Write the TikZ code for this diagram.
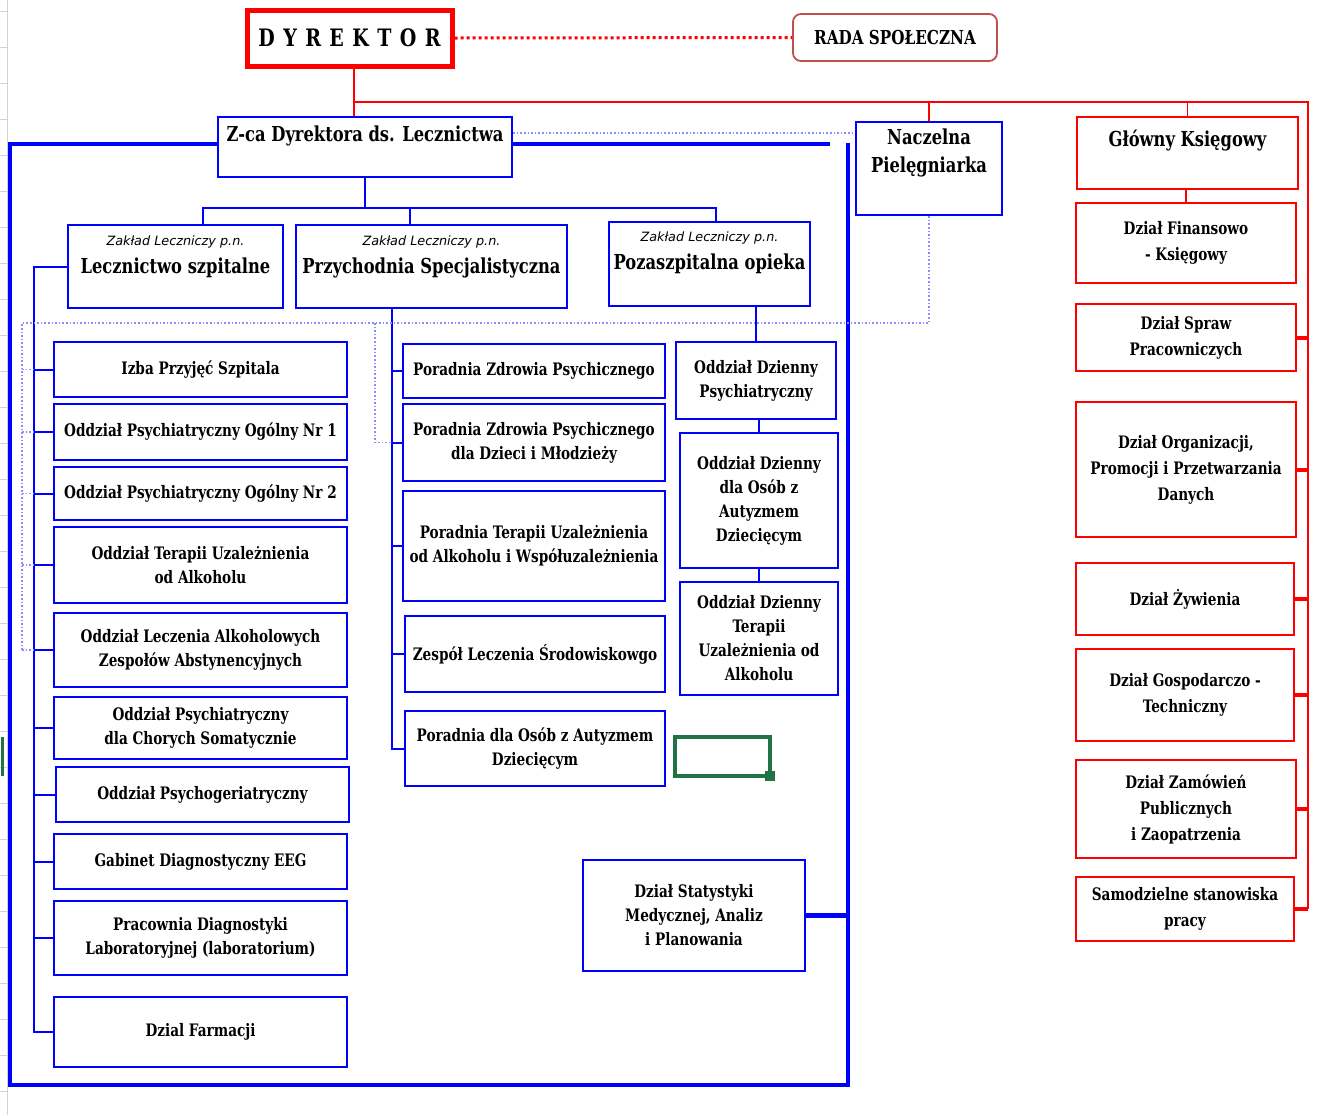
\documentclass[tikz,border=0pt]{standalone}
\usepackage{fontspec}
\setmainfont{DejaVu Serif Condensed}[FakeStretch=0.88]
\newfontfamily\zakfamily{DejaVu Sans}
\newcommand{\boxfont}{\bfseries\fontsize{8.6}{12}\selectfont}
\newcommand{\deptfont}{\bfseries\fontsize{8.6}{13}\selectfont}
\newcommand{\headfont}{\bfseries\fontsize{10.3}{14}\selectfont}
\newcommand{\zakfont}{\zakfamily\mdseries\itshape\fontsize{6.4}{8}\selectfont}
\definecolor{radared}{RGB}{192,80,77}
\definecolor{selgreen}{RGB}{33,115,70}
\tikzset{
	wh/.style 2 args={minimum width=#1*0.5pt, minimum height=#2*0.5pt},
	unit/.style={draw=blue, line width=1.1pt, fill=white, align=center, inner sep=1pt, font=\boxfont},
	dept/.style={unit, draw=red, font=\deptfont},
	head/.style={font=\headfont, align=center, inner sep=2pt},
	bline/.style={draw=blue, line width=1pt},
	frame/.style={draw=blue, line width=2.2pt},
	rline/.style={draw=red, line width=0.8pt},
	rtick/.style={draw=red, line width=2pt},
	dotline/.style={draw=blue!45, line width=0.8pt, densely dotted},
}
\begin{document}
\begin{tikzpicture}[x=0.5pt,y=-0.5pt]
	\useasboundingbox (0,0) rectangle (1321,1115);
	% sheet edge
	\draw[gray!35] (7,0) -- (7,1115);
	\foreach \y in {11,47,...,1115} \draw[gray!35] (0,\y) -- (7,\y);
	\draw[selgreen, line width=1.5pt] (2,737) -- (2,776);
	% Top
	\node[draw=red, line width=2.5pt, wh={205}{56}, font=\bfseries\fontsize{12}{14}\selectfont\addfontfeature{LetterSpace=35}] (dyr) at (349.5,38) {DYREKTOR};
	\node[draw=radared, rounded corners=4pt, line width=0.9pt, wh={204}{47}, font=\bfseries\fontsize{9.6}{12}\selectfont] (rada) at (895,37.5) {RADA SPOŁECZNA};
	\node[unit, wh={294}{60}, label={[head, anchor=north, yshift=-3pt]north:{Z-ca Dyrektora ds. Lecznictwa}}] (zca) at (365,147) {};
	\node[unit, wh={146}{93}, label={[head, anchor=north, yshift=-2pt]north:{Naczelna\\Pielęgniarka}}] (nacz) at (929,168.5) {};
	% Zaklady
	\node[unit, wh={215}{83}, label={[head, anchor=north, yshift=-3.5pt]north:{{\zakfont Zakład Leczniczy p.n.}\\Lecznictwo szpitalne}}] (lecz) at (175.5,266.5) {};
	\node[unit, wh={271}{83}, label={[head, anchor=north, yshift=-3.5pt]north:{{\zakfont Zakład Leczniczy p.n.}\\Przychodnia Specjalistyczna}}] (przych) at (431.5,266.5) {};
	\node[unit, wh={201}{84}, label={[head, anchor=north, yshift=-3pt]north:{{\zakfont Zakład Leczniczy p.n.}\\Pozaszpitalna opieka}}] (pozasz) at (709.5,264) {};
	% Lecznictwo szpitalne
	\node[unit, wh={293}{55}] (izba) at (200.5,369.5) {Izba Przyjęć Szpitala};
	\node[unit, wh={293}{56}] (og1) at (200.5,432) {Oddział Psychiatryczny Ogólny Nr 1};
	\node[unit, wh={293}{53}] (og2) at (200.5,493.5) {Oddział Psychiatryczny Ogólny Nr 2};
	\node[unit, wh={293}{76}] (ter) at (200.5,565) {Oddział Terapii Uzależnienia\\od Alkoholu};
	\node[unit, wh={293}{74}] (alk) at (200.5,650) {Oddział Leczenia Alkoholowych\\Zespołów Abstynencyjnych};
	\node[unit, wh={293}{62}] (som) at (200.5,728) {Oddział Psychiatryczny\\dla Chorych Somatycznie};
	\node[unit, wh={293}{55}] (geri) at (202.5,794.5) {Oddział Psychogeriatryczny};
	\node[unit, wh={293}{55}] (eeg) at (200.5,861.5) {Gabinet Diagnostyczny EEG};
	\node[unit, wh={293}{74}] (lab) at (200.5,938) {Pracownia Diagnostyki\\Laboratoryjnej (laboratorium)};
	\node[unit, wh={293}{70}] (farm) at (200.5,1032) {Dzial Farmacji};
	% Przychodnia
	\node[unit, wh={262}{54}] (pzp) at (534,371) {Poradnia Zdrowia Psychicznego};
	\node[unit, wh={262}{77}] (pzpd) at (534,442.5) {Poradnia Zdrowia Psychicznego\\dla Dzieci i Młodzieży};
	\node[unit, wh={262}{110}] (ptu) at (534,546) {Poradnia Terapii Uzależnienia\\od Alkoholu i Współuzależnienia};
	\node[unit, wh={260}{76}] (zls) at (535,654) {Zespół Leczenia Środowiskowgo};
	\node[unit, wh={260}{75}] (poa) at (535,748.5) {Poradnia dla Osób z Autyzmem\\Dziecięcym};
	% Pozaszpitalna
	\node[unit, wh={160}{77}] (dz1) at (756,380.5) {Oddział Dzienny\\Psychiatryczny};
	\node[unit, wh={158}{135}] (dz2) at (759,500.5) {Oddział Dzienny\\dla Osób z\\Autyzmem\\Dziecięcym};
	\node[unit, wh={158}{113}] (dz3) at (759,638.5) {Oddział Dzienny\\Terapii\\Uzależnienia od\\Alkoholu};
	\node[unit, wh={222}{111}] (stat) at (694,915.5) {Dział Statystyki\\Medycznej, Analiz\\i Planowania};
	% Ksiegowy
	\node[dept, wh={221}{72}, label={[head, anchor=north, yshift=-5pt]north:{Główny Księgowy}}] (glowny) at (1187.5,153) {};
	\node[dept, wh={220}{80}] (fin) at (1186,243) {Dział Finansowo\\- Księgowy};
	\node[dept, wh={220}{67}] (spraw) at (1186,337.5) {Dział Spraw\\Pracowniczych};
	\node[dept, wh={220}{135}] (org) at (1186,469.5) {Dział Organizacji,\\Promocji i Przetwarzania\\Danych};
	\node[dept, wh={218}{72}] (zyw) at (1185,599) {Dział Żywienia};
	\node[dept, wh={218}{92}] (gosp) at (1185,695) {Dział Gospodarczo -\\Techniczny};
	\node[dept, wh={220}{98}] (zam) at (1186,809) {Dział Zamówień\\Publicznych\\i Zaopatrzenia};
	\node[dept, wh={218}{64}] (samo) at (1185,909) {Samodzielne stanowiska\\pracy};
	% Red lines
	\coordinate (rb) at (1308,102);
	\coordinate (rd) at (354,102);
	\draw[red, line width=1.5pt, dash pattern=on 1.5pt off 1.5pt] (dyr.east) -- (rada.west);
	\draw[rline] (rd |- dyr.south) -- (rd |- zca.north);
	\draw[rline] (rd) -- (rb) -- (rb |- samo.east);
	\draw[rline] (nacz.north) -- (nacz.north |- rb);
	\draw[rline] (glowny.north) -- (glowny.north |- rb);
	\draw[rline] (fin.north) -- (fin.north |- glowny.south);
	\foreach \n in {spraw,org,zyw,gosp,zam,samo} \draw[rtick] (\n.east) -- (rb |- \n.east);
	% Blue frame
	\coordinate (ftr) at (830,144);
	\coordinate (fbl) at (10,1085);
	\coordinate (fbr) at (848,1085);
	\draw[frame] (zca.west |- ftr) -| (fbl) -- (fbr) -- ([yshift=0.5pt]fbr |- ftr);
	\draw[frame] (zca.east |- ftr) -- (ftr);
	\draw[frame] (stat.east) -- (stat.east -| fbr);
	% Blue lines
	\coordinate (zl) at (203,208);
	\coordinate (zm) at (410,208);
	\coordinate (zr) at (716,208);
	\coordinate (lsp) at (34,0);
	\coordinate (msp) at (392,0);
	\draw[bline] (zca.south) -- (zca.south |- zl);
	\draw[bline] (zl |- lecz.north) -- (zl) -- (zr) -- (zr |- pozasz.north);
	\draw[bline] (zm) -- (zm |- przych.north);
	\draw[bline] (lecz.west) -- (lsp |- lecz.west) -- (lsp |- farm.west) -- (farm.west);
	\foreach \n in {izba,og1,og2,ter,alk,som,geri,eeg,lab} \draw[bline] (lsp |- \n.west) -- (\n.west);
	\draw[bline] (msp |- przych.south) -- (msp |- poa.west) -- (poa.west);
	\foreach \n in {pzp,pzpd,ptu,zls} \draw[bline] (msp |- \n.west) -- (\n.west);
	\draw[bline] (dz1.north) -- (dz1.north |- pozasz.south);
	\draw[bline] (dz2.north) -- (dz2.north |- dz1.south);
	\draw[bline] (dz3.north) -- (dz3.north |- dz2.south);
	% Dotted
	\coordinate (dtl) at (22,323);
	\coordinate (dtm) at (375,323);
	\draw[dotline] ([yshift=7pt]zca.east) -- ([yshift=7pt]zca.east -| nacz.west);
	\draw[dotline] (nacz.south) |- (dtl) -- (dtl |- alk.west);
	\foreach \n in {izba,og1,og2,ter,alk} \draw[dotline] (dtl |- \n.west) -- (lsp |- \n.west);
	\draw[dotline] (dtm) |- (msp |- pzpd.west);
	% Selected cell
	\draw[selgreen, line width=1.6pt] (675,737) rectangle (770,776);
	\fill[selgreen] (765,771) rectangle (775,781);
\end{tikzpicture}
\end{document}
